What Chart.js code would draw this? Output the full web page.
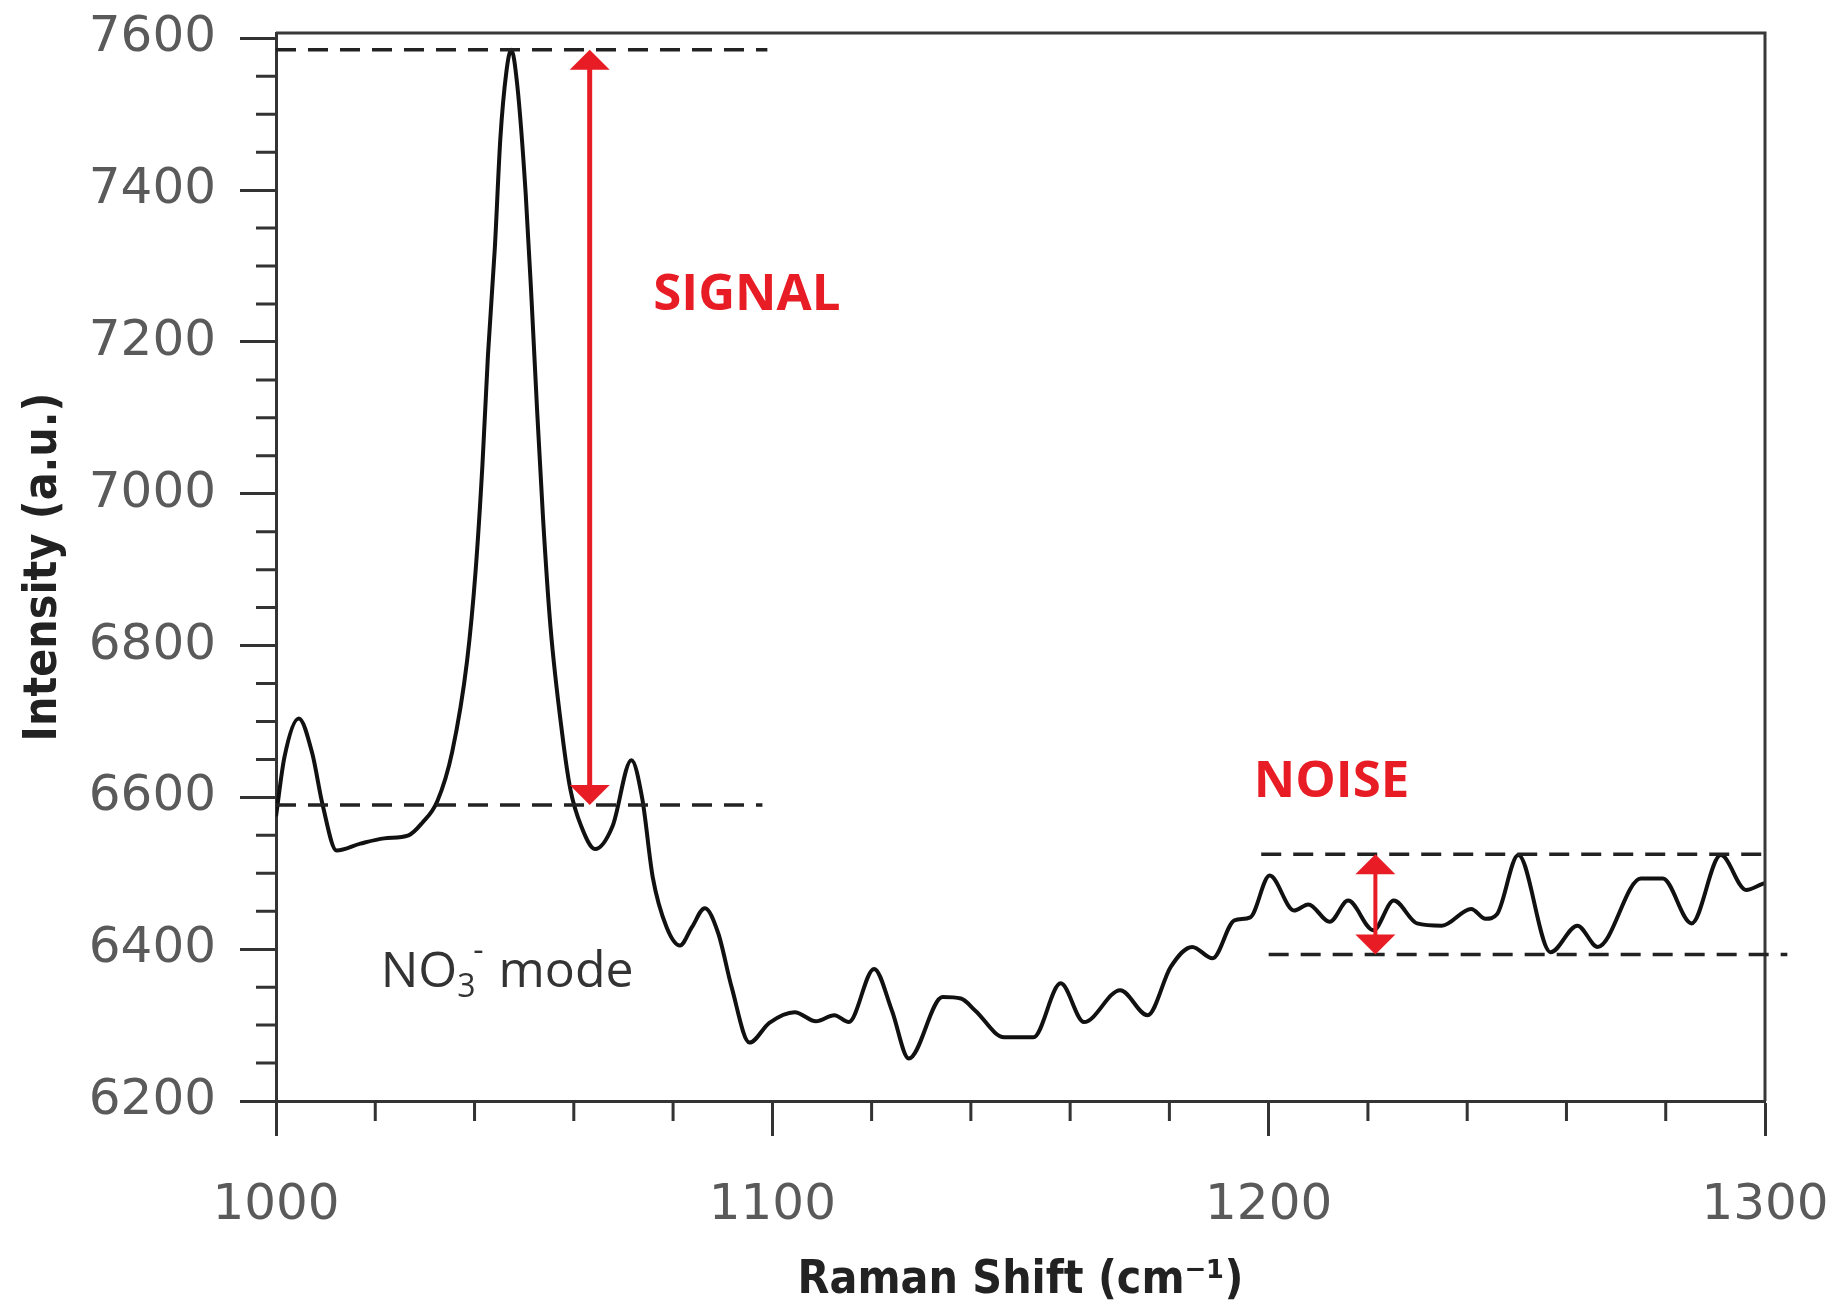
<!DOCTYPE html>
<html>
<head>
<meta charset="utf-8">
<title>Raman spectrum - signal and noise</title>
<script src="https://cdn.jsdelivr.net/npm/chart.js@4.4.0/dist/chart.umd.min.js"></script>
<style>
  html, body { margin: 0; padding: 0; background: #fff; }
  #wrap { width: 1836px; height: 1309px; }
</style>
</head>
<body>
<div id="wrap"><canvas id="spectrum"></canvas></div>
<script>
// Raman shift (cm-1) and intensity (a.u.)
const shiftValues = [
  1000, 1001.7, 1004.6, 1007.3, 1009.4, 1012.2, 1017, 1021.8, 1026.7, 1029.4,
  1032.5, 1035.5, 1038.5, 1040.2, 1041.6, 1042.7, 1044.1, 1045.2, 1046.4, 1047.4,
  1048.6, 1050.3, 1051.5, 1052.6, 1053.8, 1055.3, 1057.7, 1059.3, 1061.5, 1064.3,
  1067.8, 1071.6, 1073.8, 1075.9, 1078.7, 1081.4, 1083.8, 1086.4, 1089.1, 1091.8,
  1095.4, 1099.4, 1104.5, 1108.8, 1112.5, 1115.4, 1120.5, 1124.1, 1127.5, 1134.3,
  1138, 1140.9, 1146.7, 1152.6, 1158.1, 1162.8, 1170.1, 1175.6, 1180.3, 1184.6,
  1188.7, 1193.1, 1196.3, 1200.2, 1205.1, 1208, 1212.3, 1216, 1221.1, 1225.2,
  1229.9, 1234.9, 1240.8, 1243.7, 1246, 1250.3, 1256.8, 1262.2, 1266.3, 1275,
  1279.4, 1285.2, 1291.1, 1296.2, 1299.5, 1300
];
const intensityValues = [
  6575, 6653, 6704, 6658, 6590, 6530, 6539, 6546, 6550, 6566,
  6595, 6660, 6780, 6897, 7039, 7182, 7325, 7468, 7555, 7585,
  7539, 7396, 7254, 7111, 6968, 6825, 6682, 6611, 6562, 6532,
  6562, 6649, 6598, 6495, 6429, 6405, 6429, 6454, 6421, 6350,
  6277, 6303, 6317, 6305, 6313, 6304, 6374, 6319, 6256, 6337,
  6335, 6319, 6284, 6284, 6355, 6304, 6346, 6313, 6377, 6403,
  6388, 6438, 6442, 6497, 6451, 6459, 6436, 6464, 6425, 6464,
  6434, 6431, 6453, 6440, 6446, 6524, 6396, 6431, 6403, 6493,
  6493, 6434, 6524, 6478, 6486, 6487
];
const xTickValues = [1000, 1100, 1200, 1300];
const yTickValues = [6200, 6400, 6600, 6800, 7000, 7200, 7400, 7600];

// annotation levels (a.u.)
const signalLevels = [7585, 6590];
const noiseLevels = [6525, 6393];

const red = '#e81c24';

function dashed(ctx, x, y, yVal, x0, x1) {
  const py = y.getPixelForValue(yVal);
  ctx.beginPath();
  ctx.moveTo(x.getPixelForValue(x0), py);
  ctx.lineTo(x.getPixelForValue(x1), py);
  ctx.stroke();
}

function doubleArrow(ctx, px, pTop, pBot, shaft) {
  const head = 20, half = 20;
  ctx.strokeStyle = red;
  ctx.fillStyle = red;
  ctx.lineWidth = shaft;
  ctx.beginPath();
  ctx.moveTo(px, pTop + head - 2);
  ctx.lineTo(px, pBot - head + 2);
  ctx.stroke();
  ctx.beginPath();
  ctx.moveTo(px, pTop);
  ctx.lineTo(px - half, pTop + head);
  ctx.lineTo(px + half, pTop + head);
  ctx.closePath();
  ctx.fill();
  ctx.beginPath();
  ctx.moveTo(px, pBot);
  ctx.lineTo(px - half, pBot - head);
  ctx.lineTo(px + half, pBot - head);
  ctx.closePath();
  ctx.fill();
}

const overlay = {
  id: 'overlay',
  afterDatasetsDraw(chart) {
    const { ctx, chartArea: a, scales: { x, y } } = chart;
    ctx.save();

    // top and right sides of the frame
    ctx.strokeStyle = '#383838';
    ctx.lineWidth = 3;
    ctx.beginPath();
    ctx.moveTo(a.left, a.top);
    ctx.lineTo(a.right, a.top);
    ctx.lineTo(a.right, a.bottom);
    ctx.stroke();

    // minor ticks
    ctx.strokeStyle = '#333';
    ctx.lineWidth = 3;
    ctx.beginPath();
    for (let v = 1020; v < 1300; v += 20) {
      if (v % 100 === 0) continue;
      const px = x.getPixelForValue(v);
      ctx.moveTo(px, a.bottom);
      ctx.lineTo(px, a.bottom + 20);
    }
    for (let v = 6250; v < 7600; v += 50) {
      if (v % 200 === 0) continue;
      const py = y.getPixelForValue(v);
      ctx.moveTo(a.left, py);
      ctx.lineTo(a.left - 20, py);
    }
    ctx.stroke();

    // dashed reference lines
    ctx.strokeStyle = '#222';
    ctx.lineWidth = 3.5;
    ctx.setLineDash([20, 12]);
    dashed(ctx, x, y, signalLevels[0], 1000, 1099);
    dashed(ctx, x, y, signalLevels[1], 1000, 1098);
    dashed(ctx, x, y, noiseLevels[0], 1198.5, 1300);
    dashed(ctx, x, y, noiseLevels[1], 1200, 1304.5);
    ctx.setLineDash([]);

    // arrows
    doubleArrow(ctx, x.getPixelForValue(1063.2),
      y.getPixelForValue(signalLevels[0]), y.getPixelForValue(signalLevels[1]), 5);
    doubleArrow(ctx, x.getPixelForValue(1221.5),
      y.getPixelForValue(noiseLevels[0]), y.getPixelForValue(noiseLevels[1]), 4);

    // labels
    ctx.fillStyle = red;
    ctx.textAlign = 'left';
    ctx.textBaseline = 'middle';
    ctx.font = 'bold 51px "Open Sans"';
    ctx.fillText('SIGNAL', x.getPixelForValue(1076), y.getPixelForValue(7261));
    ctx.fillText('NOISE', x.getPixelForValue(1197), y.getPixelForValue(6620));

    // NO3- mode
    ctx.fillStyle = '#333';
    ctx.textBaseline = 'alphabetic';
    let tx = x.getPixelForValue(1021.1);
    const ty = y.getPixelForValue(6350);
    ctx.font = '50px "Open Sans"';
    ctx.fillText('NO', tx, ty);
    tx += ctx.measureText('NO').width;
    ctx.font = '32px "Open Sans"';
    ctx.fillText('3', tx, ty + 10);
    ctx.fillText('-', tx + 16, ty - 26);
    tx += ctx.measureText('3').width + 10;
    ctx.font = '50px "Open Sans"';
    ctx.fillText(' mode', tx, ty);

    ctx.restore();
  }
};

new Chart(document.getElementById('spectrum'), {
  type: 'line',
  data: {
    datasets: [{
      data: shiftValues.map((s, i) => ({ x: s, y: intensityValues[i] })),
      borderColor: '#111',
      borderWidth: 4,
      pointRadius: 0,
      cubicInterpolationMode: 'monotone',
      fill: false
    }]
  },
  options: {
    responsive: true,
    maintainAspectRatio: false,
    animation: false,
    events: [],
    layout: { autoPadding: false, padding: { top: 33, right: 71, left: 0, bottom: 0 } },
    plugins: {
      legend: { display: false },
      tooltip: { enabled: false }
    },
    scales: {
      x: {
        type: 'linear',
        min: 1000,
        max: 1300,
        afterBuildTicks: (s) => { s.ticks = xTickValues.map(v => ({ value: v })); },
        afterFit: (s) => { s.height = 208; s.paddingLeft = 0; s.paddingRight = 0; },
        border: { color: '#333', width: 3 },
        grid: { drawOnChartArea: false, drawTicks: true, tickLength: 35, tickWidth: 3, tickColor: '#333' },
        ticks: {
          color: '#5a5a5a', padding: 40,
          font: { family: 'DejaVu Sans', size: 50 },
          callback: (v) => String(v)
        },
        title: {
          display: true,
          text: 'Raman Shift (cm\u207B\u00B9)',
          color: '#222',
          padding: { top: 0, bottom: 0 },
          font: { family: 'DejaVu Sans Condensed', weight: 'bold', size: 46 }
        }
      },
      y: {
        type: 'linear',
        min: 6200,
        max: 7607,
        afterBuildTicks: (s) => { s.ticks = yTickValues.map(v => ({ value: v })); },
        afterFit: (s) => { s.width = 276; s.paddingTop = 0; s.paddingBottom = 0; },
        border: { color: '#333', width: 3 },
        grid: { drawOnChartArea: false, drawTicks: true, tickLength: 36, tickWidth: 3, tickColor: '#333' },
        ticks: {
          color: '#5a5a5a', padding: 24,
          font: { family: 'DejaVu Sans', size: 50 },
          callback: (v) => String(v)
        },
        title: {
          display: true,
          text: 'Intensity (a.u.)',
          color: '#222',
          padding: { top: 16, bottom: 0 },
          font: { family: 'DejaVu Sans Condensed', weight: 'bold', size: 46 }
        }
      }
    }
  },
  plugins: [overlay]
});
</script>
</body>
</html>
